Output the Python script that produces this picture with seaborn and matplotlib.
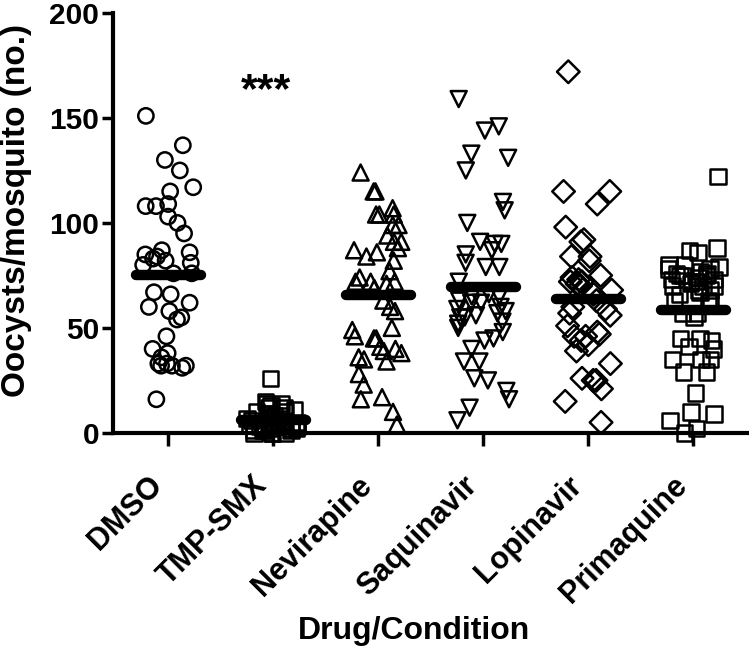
import numpy as np
import pandas as pd
import matplotlib
matplotlib.use('Agg')
import matplotlib.pyplot as plt
import seaborn as sns

# Groups and markers (Prism-style open symbols)
groups = ['DMSO', 'TMP-SMX', 'Nevirapine', 'Saquinavir', 'Lopinavir', 'Primaquine']
markers = ['o', 's', '^', 'v', 'D', 's']
sizes = [11, 11, 11.5, 11.5, 11.5, 11]

# Oocysts per mosquito
dmso = [151, 137, 130, 125, 117, 115, 109, 108, 108, 103, 100, 95, 87, 85, 84, 86,
        83, 82, 81, 80, 76, 76, 67, 66, 62, 60, 58, 55, 54, 46, 40, 38, 36, 33,
        32, 32, 31, 33, 32, 16]
tmp_smx = [26, 15, 14, 14, 13, 12, 12, 11, 10, 10, 9, 9, 8, 8, 7, 7, 6, 6, 5, 5,
           5, 4, 4, 4, 3, 3, 3, 2, 2, 2, 1, 1, 1, 0, 0, 0, 0, 1, 2, 3]
nevirapine = [124, 115, 115, 107, 104, 104, 104, 99, 99, 94, 91, 91, 87, 88, 84,
              86, 82, 77, 74, 71, 72, 72, 72, 69, 63, 60, 58, 50, 49, 45, 45, 46,
              41, 39, 40, 38, 36, 35, 34, 28, 23, 17, 16, 10, 4]
saquinavir = [159, 144, 146, 131, 133, 125, 110, 106, 100, 91, 90, 90, 85, 87, 79,
              79, 81, 72, 65, 65, 63, 59, 56, 55, 55, 52, 44, 45, 34, 34, 26, 25,
              20, 16, 12, 6, 60, 58, 62, 57, 53, 66, 48, 50, 62, 40]
lopinavir = [172, 115, 115, 109, 98, 91, 92, 84, 82, 84, 73, 75, 72, 74, 70, 72,
             60, 56, 59, 51, 44, 46, 46, 39, 42, 33, 26, 25, 25, 21, 15, 5, 68, 66,
             71, 48, 47, 63, 57]
primaquine = [122, 88, 87, 86, 80, 79, 78, 77, 76, 76, 75, 75, 74, 73, 73, 72, 71,
              70, 70, 68, 67, 66, 63, 63, 62, 57, 57, 55, 45, 45, 44, 41, 40, 35,
              35, 35, 29, 29, 19, 10, 9, 6, 2, 0, 78, 75, 72, 70, 68, 80]

values = [dmso, tmp_smx, nevirapine, saquinavir, lopinavir, primaquine]
df = pd.DataFrame({
    'Condition': np.repeat(groups, [len(v) for v in values]),
    'Oocysts': np.concatenate(values),
})

sns.set_style('ticks')
plt.rcParams['font.family'] = ['Liberation Sans', 'DejaVu Sans']
plt.rcParams['font.weight'] = 'bold'
for key in ['text.color', 'axes.labelcolor', 'xtick.color', 'ytick.color',
            'axes.edgecolor']:
    plt.rcParams[key] = 'black'

fig = plt.figure(figsize=(7.49, 6.49), dpi=100)
ax = fig.add_axes([0.151, 0.333, 0.848, 0.647])

np.random.seed(7)
for g, m, sz in zip(groups, markers, sizes):
    sns.stripplot(data=df[df['Condition'] == g], x='Condition', y='Oocysts',
                  order=groups, marker=m, size=sz, jitter=0.25, color='black',
                  edgecolor='black', linewidth=1.8, zorder=3, ax=ax)

# open symbols, allowed to overhang the axis; drop empty collections
for coll in list(ax.collections):
    if len(coll.get_offsets()) == 0:
        coll.remove()
        continue
    coll.set_facecolor('none')
    coll.set_clip_on(False)

# mean bars
means = df.groupby('Condition', sort=False)['Oocysts'].mean().reindex(groups)
pos = np.arange(len(groups))
ax.hlines(means.values, pos - 0.31, pos + 0.31, color='black', linewidth=7.5,
          capstyle='round', zorder=4)

ax.text(0.93, 163, '***', ha='center', va='center', fontsize=31, fontweight='bold')

ax.set_xlim(-0.524, 5.524)
ax.set_ylim(0, 200)
ax.set_yticks([0, 50, 100, 150, 200])
ax.set_xticks(pos)
ax.set_xticklabels(groups, rotation=45, ha='right', fontsize=22, fontweight='bold')
ax.tick_params(axis='y', labelsize=21.5, length=8, width=2.5, pad=2, colors='black')
ax.tick_params(axis='x', length=9, width=2.5, pad=18, colors='black')
for lab in ax.get_yticklabels():
    lab.set_fontweight('bold')

sns.despine(ax=ax)
for s in ['left', 'bottom']:
    ax.spines[s].set_linewidth(3)
    ax.spines[s].set_color('black')

ax.set_ylabel('Oocysts/mosquito (no.)', fontsize=24, fontweight='bold')
ax.set_xlabel('Drug/Condition', fontsize=23, fontweight='bold')
ax.yaxis.set_label_coords(-0.127, 0.53)
ax.xaxis.set_label_coords(0.474, -0.437)

plt.savefig('out.png', dpi=100)
